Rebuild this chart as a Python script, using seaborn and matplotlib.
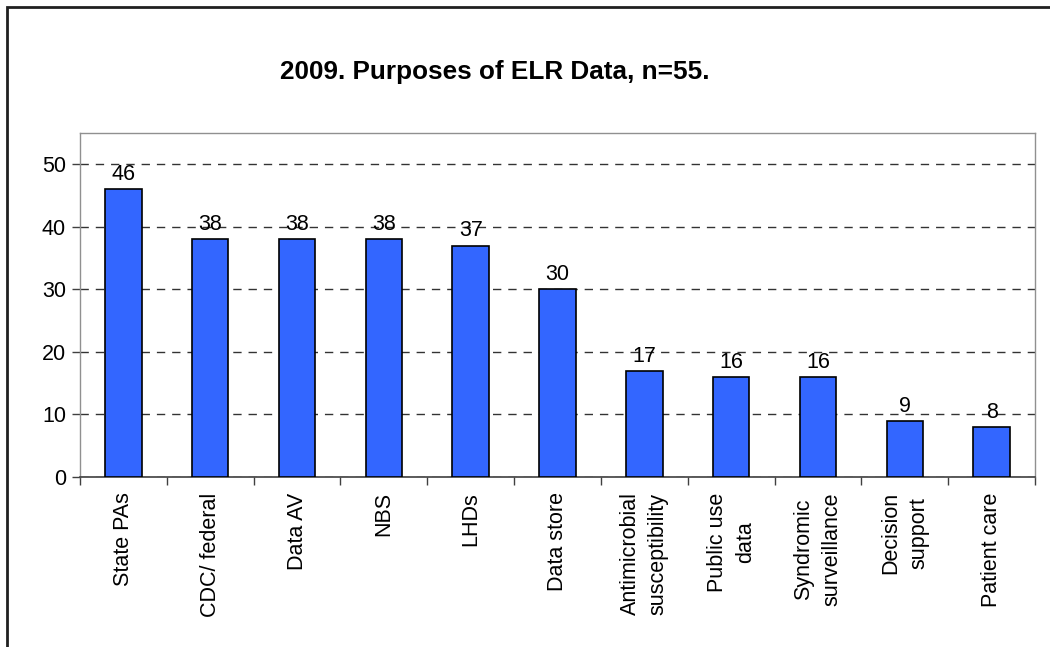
import pandas as pd
import numpy as np
import matplotlib
matplotlib.use("Agg")
import matplotlib.pyplot as plt
import seaborn as sns
from matplotlib.patches import Rectangle

# data
purposes = ["State PAs", "CDC/ federal", "Data AV", "NBS", "LHDs", "Data store",
            "Antimicrobial\nsusceptibility", "Public use\ndata", "Syndromic\nsurveillance",
            "Decision\nsupport", "Patient care"]
counts = [46, 38, 38, 38, 37, 30, 17, 16, 16, 9, 8]
y_ticks = [0, 10, 20, 30, 40, 50]

df = pd.DataFrame({"purpose": purposes, "count": counts})

sns.set_theme(style="white")
plt.rcParams["font.family"] = ["Liberation Sans", "DejaVu Sans"]
plt.rcParams["text.color"] = "black"
plt.rcParams["xtick.color"] = "black"
plt.rcParams["ytick.color"] = "black"

fig = plt.figure(figsize=(10.5, 6.47), dpi=100)
ax = fig.add_axes([80 / 1050, 1 - 477 / 647, (1035 - 80) / 1050, (477 - 133) / 647])

sns.barplot(data=df, x="purpose", y="count", color="#3366FF", saturation=1,
            width=0.42, edgecolor="black", linewidth=1.2, ax=ax, zorder=3)

ax.set_ylim(0, 55)
ax.set_xlim(-0.5, len(purposes) - 0.5)
ax.set_yticks(y_ticks)
ax.set_yticklabels([str(t) for t in y_ticks], fontsize=15.5)
ax.yaxis.grid(True, linestyle=(0, (6, 5)), color="#333333", linewidth=1, zorder=0)
ax.set_axisbelow(True)

# category labels rotated, tick marks between categories
ax.set_xticks(range(len(purposes)))
ax.set_xticklabels(purposes, rotation=90, fontsize=15.5, va="top", ha="center")
for lbl in ax.get_xticklabels():
    lbl.set_linespacing(1.45)
ax.set_xticks(np.arange(-0.5, len(purposes)), minor=True)
ax.tick_params(axis="x", which="major", bottom=True, length=0, pad=11)
ax.tick_params(axis="x", which="minor", bottom=True, length=6, width=1,
               color="#404040", direction="out")
ax.tick_params(axis="y", left=True, length=6, width=1, color="#404040",
               direction="out", pad=4)
ax.set_xlabel("")
ax.set_ylabel("")

for s in ["left", "right", "top"]:
    ax.spines[s].set_color("#909090")
    ax.spines[s].set_linewidth(1)
ax.spines["bottom"].set_color("#404040")
ax.spines["bottom"].set_linewidth(1.2)

for c in ax.containers:
    ax.bar_label(c, fontsize=15.5, padding=3)

fig.text(495 / 1050, 1 - 72 / 647, "2009. Purposes of ELR Data, n=55.",
         fontsize=18.8, fontweight="bold", ha="center", va="center")

# outer chart border (top and left edges visible)
fig.patches.append(Rectangle((7 / 1050, -0.1), 1.2, 1 - 7 / 647 + 0.1,
                             transform=fig.transFigure, fill=False,
                             edgecolor="#202020", linewidth=2))

fig.savefig("out.png", dpi=100)
